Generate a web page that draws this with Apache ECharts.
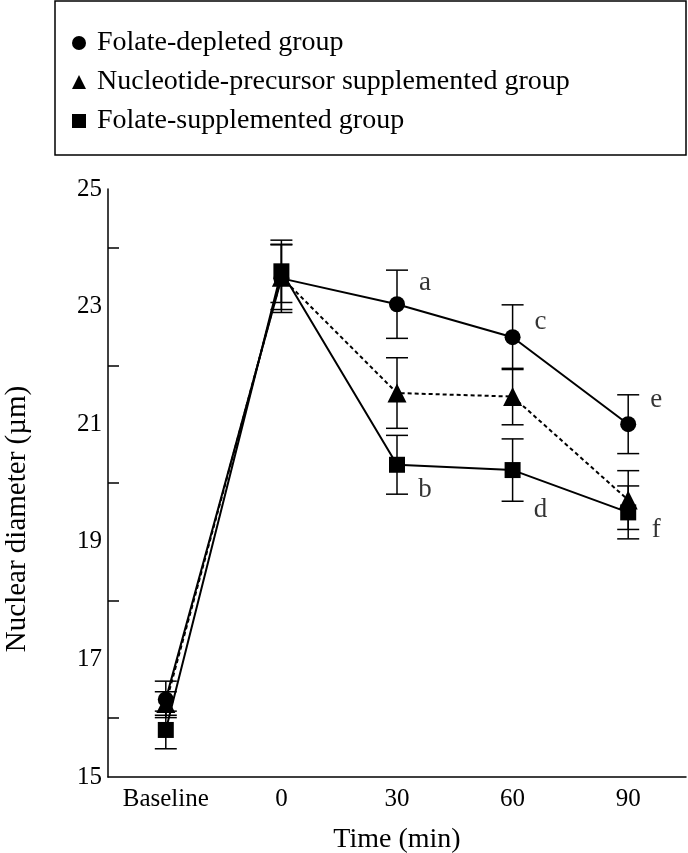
<!DOCTYPE html>
<html><head><meta charset="utf-8">
<script src="https://cdn.jsdelivr.net/npm/echarts@6/dist/echarts.min.js"></script>
<style>html,body{margin:0;padding:0;background:#fff}#c{width:688px;height:853px}</style>
</head><body><div id="c"></div>
<script>
const categories = ['Baseline', '0', '30', '60', '90'];
const folateDepleted = [16.32, 23.48, 23.04, 22.48, 21.0];
const folateDepletedErr = [0.31, 0.58, 0.58, 0.55, 0.5];
const nucleotide = [16.25, 23.5, 21.53, 21.47, 19.71];
const nucleotideErr = [0.2, 0.55, 0.6, 0.48, 0.5];
const folateSupp = [15.8, 23.6, 20.31, 20.22, 19.5];
const folateSuppErr = [0.32, 0.53, 0.5, 0.53, 0.45];
const annotations = [['30', 23.4, 'a'], ['30', 19.88, 'b'], ['60', 22.74, 'c'], ['60', 19.54, 'd'], ['90', 21.41, 'e'], ['90', 19.2, 'f']];
const seriesNames = ['Folate-depleted group', 'Nucleotide-precursor supplemented group', 'Folate-supplemented group'];

const FONT = 'Liberation Serif';
const chart = echarts.init(document.getElementById('c'), null, {renderer: 'canvas'});

function errRender(params, api) {
  const x = api.value(0), lo = api.value(1), hi = api.value(2);
  const p1 = api.coord([x, hi]), p2 = api.coord([x, lo]);
  const w = 11;
  const style = {stroke: '#000', lineWidth: 1.5};
  return {type: 'group', children: [
    {type: 'line', shape: {x1: p1[0], y1: p1[1], x2: p2[0], y2: p2[1]}, style: style},
    {type: 'line', shape: {x1: p1[0] - w, y1: p1[1], x2: p1[0] + w, y2: p1[1]}, style: style},
    {type: 'line', shape: {x1: p2[0] - w, y1: p2[1], x2: p2[0] + w, y2: p2[1]}, style: style}
  ]};
}
function errData(vals, errs) {
  return vals.map((v, i) => [i, v - errs[i], v + errs[i]]);
}
function errSeries(vals, errs) {
  return {type: 'custom', renderItem: errRender, data: errData(vals, errs), z: 1, silent: true};
}
function lineSeries(name, vals, symbol, size, dashed) {
  return {
    type: 'line', name: name, data: vals, symbol: symbol, symbolSize: size,
    lineStyle: {color: '#000', width: 2, type: dashed ? [4, 3] : 'solid'},
    itemStyle: {color: '#000'}, z: 3, animation: false
  };
}

const option = {
  animation: false,
  backgroundColor: '#fff',
  textStyle: {fontFamily: FONT, color: '#000'},
  graphic: [{
    type: 'rect', shape: {x: 55, y: 1, width: 631, height: 154},
    style: {fill: 'none', stroke: '#000', lineWidth: 1.5}
  }],
  legend: {
    orient: 'vertical', left: 67, top: 24, itemWidth: 14, itemHeight: 14, itemGap: 11,
    textStyle: {fontFamily: FONT, fontSize: 28, color: '#000', lineHeight: 27, padding: [0, 0, 0, 6]},
    data: [
      {name: seriesNames[0], icon: 'circle'},
      {name: seriesNames[1], icon: 'triangle'},
      {name: seriesNames[2], icon: 'rect'}
    ]
  },
  grid: {left: 108, right: 2, top: 189, bottom: 76, outerBoundsMode: 'none', containLabel: false},
  xAxis: [{
    type: 'category', data: categories, boundaryGap: true,
    axisLine: {lineStyle: {color: '#000', width: 1.5}},
    axisTick: {alignWithLabel: true, inside: true, length: 20, lineStyle: {color: '#000', width: 1.5}},
    axisLabel: {fontFamily: FONT, fontSize: 25, color: '#000', margin: 10},
    name: 'Time (min)', nameLocation: 'middle', nameGap: 49,
    nameTextStyle: {fontFamily: FONT, fontSize: 28, color: '#000'}
  }, {
    type: 'category', data: categories, boundaryGap: true, position: 'bottom',
    axisLine: {show: false}, axisLabel: {show: false},
    axisTick: {alignWithLabel: false, inside: true, length: 10, lineStyle: {color: '#000', width: 1.5}}
  }],
  yAxis: {
    type: 'value', min: 15, max: 25, interval: 2,
    axisLine: {show: true, lineStyle: {color: '#000', width: 1.5}},
    axisTick: {inside: true, length: 21, lineStyle: {color: '#000', width: 1.5}},
    minorTick: {show: true, splitNumber: 2, length: 11, lineStyle: {color: '#000', width: 1.5}},
    splitLine: {show: false},
    axisLabel: {fontFamily: FONT, fontSize: 25, color: '#000', margin: 6},
    name: 'Nuclear diameter (µm)', nameLocation: 'middle', nameGap: 76,
    nameTextStyle: {fontFamily: FONT, fontSize: 29, color: '#000', padding: [0, 72, 0, 0]}
  },
  series: [
    errSeries(folateDepleted, folateDepletedErr),
    errSeries(nucleotide, nucleotideErr),
    errSeries(folateSupp, folateSuppErr),
    lineSeries(seriesNames[1], nucleotide, 'triangle', 19, true),
    lineSeries(seriesNames[2], folateSupp, 'rect', 16, false),
    lineSeries(seriesNames[0], folateDepleted, 'circle', 16, false),
    {
      type: 'scatter', symbolSize: 0, silent: true, z: 4,
      data: annotations.map(a => ({value: [a[0], a[1]], label: {formatter: a[2]}})),
      label: {show: true, position: 'inside', offset: [28, 0], fontFamily: FONT, fontSize: 27, color: '#000'}
    }
  ]
};
chart.setOption(option);
</script>
</body></html>
